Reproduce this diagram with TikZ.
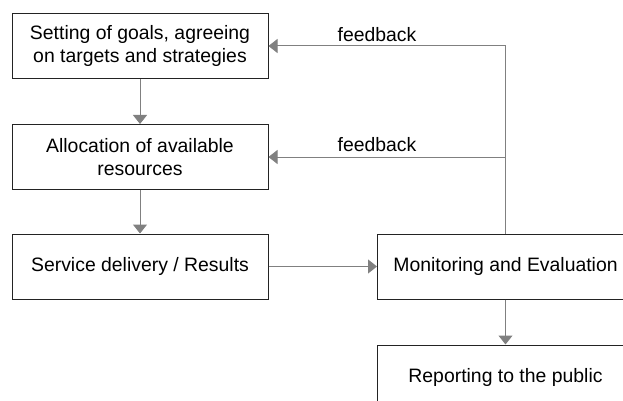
\documentclass[tikz,border=0pt]{standalone}
\usepackage{fontspec}
\setmainfont{Liberation Sans}
\usetikzlibrary{arrows.meta}
\definecolor{linegray}{RGB}{128,128,128}
\definecolor{boxline}{RGB}{35,35,35}
\tikzset{
  box/.style={draw=boxline, line width=1pt, minimum width=256pt, minimum height=65pt,
    inner sep=0pt, align=center, font=\fontsize{19.4}{22.5}\selectfont, text=black},
  conn/.style={draw=linegray, line width=1pt, -{Triangle[width=14pt,length=9pt]}},
  lbl/.style={font=\fontsize{19.4}{22.5}\selectfont, text=black, inner sep=0pt, anchor=base}
}
\begin{document}
\begin{tikzpicture}[x=1pt,y=-1pt]
\useasboundingbox (0,0) rectangle (623,401);
\clip (0,0) rectangle (623,401);
\node[box] (goals) at (140,46) {Setting of goals, agreeing\\on targets and strategies};
\node[box] (alloc) at (140,157) {Allocation of available\\resources};
\node[box] (serv) at (140,266.5) {Service delivery / Results};
\node[box] (mon) at (505.5,266.5) {Monitoring and Evaluation};
\node[box] (rep) at (505.5,377.5) {Reporting to the public};
\draw[conn] (goals) -- (alloc);
\draw[conn] (alloc) -- (serv);
\draw[conn] (serv) -- (mon);
\draw[conn] (mon) -- (rep);
\draw[conn] (mon.north) |- (goals.east);
\draw[conn] (mon.north |- alloc.east) -- (alloc.east);
\node[lbl] (fb1) at (377,41.5) {feedback};
\node[lbl] (fb2) at (377,151.5) {feedback};
\end{tikzpicture}
\end{document}
